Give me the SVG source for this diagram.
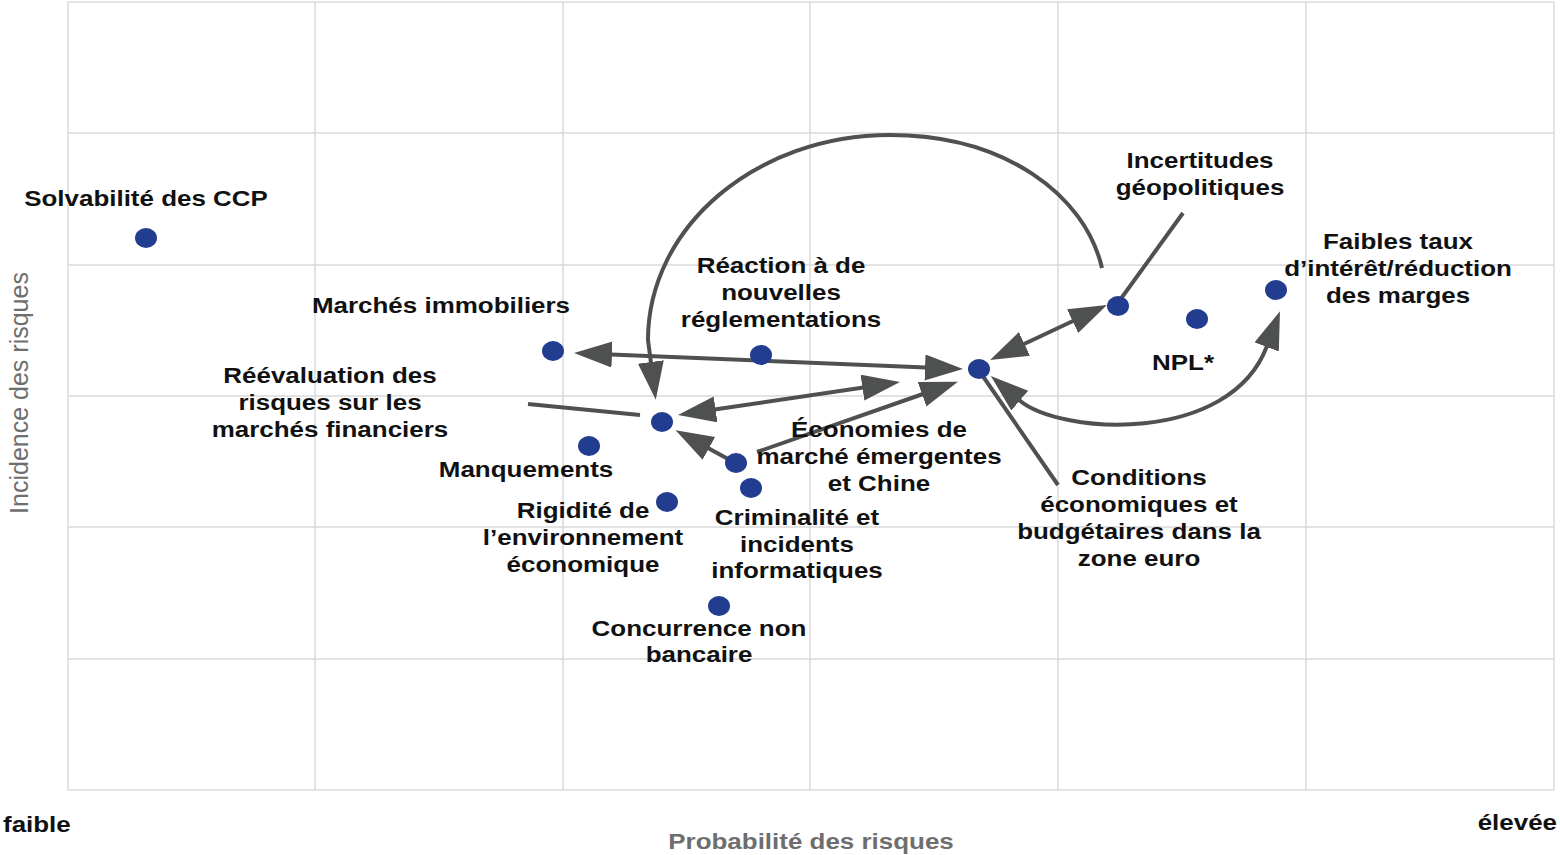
<svg xmlns="http://www.w3.org/2000/svg" width="1560" height="855" viewBox="0 0 1560 855">
<style>
.grid{stroke:#dadada;stroke-width:1.5;fill:none}
.dot{fill:#223d8f}
.lbl{font-family:"Liberation Sans",Arial,sans-serif;font-weight:bold;font-size:22px;fill:#111;text-anchor:middle}
.conn{stroke:#4f5150;stroke-width:4;fill:none}
.arr{marker-start:url(#ah);marker-end:url(#ah)}
.one{marker-end:url(#ah)}
.axis{font-family:"Liberation Sans",Arial,sans-serif;font-size:22px;font-weight:bold;fill:#111}
.atitle{font-family:"Liberation Sans",Arial,sans-serif;fill:#6e6e6e}
</style>
<defs>
<marker id="ah" markerUnits="userSpaceOnUse" markerWidth="42" markerHeight="28" refX="1" refY="13" orient="auto-start-reverse">
<path d="M0,0 L38,13 L0,26 z" fill="#4f5150"/>
</marker>
</defs>
<rect width="1560" height="855" fill="#fff"/>
<g id="grid" class="grid">
<path d="M68,2 H1554 M68,133 H1554 M68,265 H1554 M68,396 H1554 M68,527 H1554 M68,659 H1554 M68,790 H1554"/>
<path d="M68,2 V790 M315,2 V790 M563,2 V790 M810,2 V790 M1058,2 V790 M1306,2 V790 M1554,2 V790"/>
</g>
<g id="axes">
<text class="axis" transform="translate(3,0) scale(1.18,1)" x="0" y="832">faible</text>
<text class="axis" transform="translate(1557,0) scale(1.18,1)" x="0" y="830" text-anchor="end">élevée</text>
<text class="atitle" transform="translate(811,0) scale(1.18,1)" x="0" y="849" font-size="22" font-weight="bold" text-anchor="middle">Probabilité des risques</text>
<text class="atitle" transform="translate(28,393) rotate(-90)" x="0" y="0" font-size="25" text-anchor="middle" fill="#777">Incidence des risques</text>
</g>
<g id="connectors" class="conn">
<path class="arr" d="M611,354.5 L926,367.5"/>
<path class="one" d="M1102,268 C1085,195 1005,135 890,135 C756,135 648,227 648,340 L651,363"/>
<path class="arr" d="M714.6,409.6 L863.4,387.4"/>
<path class="one" d="M757,452 L923,394"/>
<path class="one" d="M728,459 L708,448"/>
<path d="M1183,213 L1120,300"/>
<path class="arr" d="M1023.5,344.3 L1073.5,320.7"/>
<path class="arr" d="M1019,400 C1060,435 1230,445 1267,346"/>
<path d="M528,404 L640,415"/>
<path d="M980,372 L1058,485"/>
</g>
<g id="n-ccp"><ellipse class="dot" cx="146" cy="238" rx="11" ry="10"/>
<text class="lbl" transform="translate(146,0) scale(1.18,1)" x="0" y="206">Solvabilité des CCP</text></g>
<g id="n-immo"><ellipse class="dot" cx="553" cy="351" rx="11" ry="10"/>
<text class="lbl" transform="translate(441,0) scale(1.18,1)" x="0" y="313">Marchés immobiliers</text></g>
<g id="n-regl"><ellipse class="dot" cx="761" cy="355" rx="11" ry="10"/>
<text class="lbl" transform="translate(781,0) scale(1.18,1)"><tspan x="0" y="273">Réaction à de</tspan><tspan x="0" y="300">nouvelles</tspan><tspan x="0" y="327">réglementations</tspan></text></g>
<g id="n-reeval"><ellipse class="dot" cx="662" cy="422" rx="11" ry="10"/>
<text class="lbl" transform="translate(330,0) scale(1.18,1)"><tspan x="0" y="383">Réévaluation des</tspan><tspan x="0" y="410">risques sur les</tspan><tspan x="0" y="437">marchés financiers</tspan></text></g>
<g id="n-manq"><ellipse class="dot" cx="589" cy="446" rx="11" ry="10"/>
<text class="lbl" transform="translate(526,0) scale(1.18,1)" x="0" y="477">Manquements</text></g>
<g id="n-emerg"><ellipse class="dot" cx="736" cy="463" rx="11" ry="10"/>
<text class="lbl" transform="translate(879,0) scale(1.18,1)"><tspan x="0" y="437">Économies de</tspan><tspan x="0" y="464">marché émergentes</tspan><tspan x="0" y="491">et Chine</tspan></text></g>
<g id="n-crim"><ellipse class="dot" cx="751" cy="488" rx="11" ry="10"/>
<text class="lbl" transform="translate(797,0) scale(1.18,1)"><tspan x="0" y="525">Criminalité et</tspan><tspan x="0" y="552">incidents</tspan><tspan x="0" y="578">informatiques</tspan></text></g>
<g id="n-rigid"><ellipse class="dot" cx="667" cy="502" rx="11" ry="10"/>
<text class="lbl" transform="translate(583,0) scale(1.18,1)"><tspan x="0" y="518">Rigidité de</tspan><tspan x="0" y="545">l’environnement</tspan><tspan x="0" y="572">économique</tspan></text></g>
<g id="n-concur"><ellipse class="dot" cx="719" cy="606" rx="11" ry="10"/>
<text class="lbl" transform="translate(699,0) scale(1.18,1)"><tspan x="0" y="636">Concurrence non</tspan><tspan x="0" y="662">bancaire</tspan></text></g>
<g id="n-euro"><ellipse class="dot" cx="979" cy="369" rx="11" ry="10"/>
<text class="lbl" transform="translate(1139,0) scale(1.18,1)"><tspan x="0" y="485">Conditions</tspan><tspan x="0" y="512">économiques et</tspan><tspan x="0" y="539">budgétaires dans la</tspan><tspan x="0" y="566">zone euro</tspan></text></g>
<g id="n-geo"><ellipse class="dot" cx="1118" cy="306" rx="11" ry="10"/>
<text class="lbl" transform="translate(1200,0) scale(1.18,1)"><tspan x="0" y="168">Incertitudes</tspan><tspan x="0" y="195">géopolitiques</tspan></text></g>
<g id="n-npl"><ellipse class="dot" cx="1197" cy="319" rx="11" ry="10"/>
<text class="lbl" transform="translate(1183,0) scale(1.18,1)" x="0" y="370">NPL*</text></g>
<g id="n-taux"><ellipse class="dot" cx="1276" cy="290" rx="11" ry="10"/>
<text class="lbl" transform="translate(1398,0) scale(1.18,1)"><tspan x="0" y="249">Faibles taux</tspan><tspan x="0" y="276">d’intérêt/réduction</tspan><tspan x="0" y="303">des marges</tspan></text></g>
</svg>
